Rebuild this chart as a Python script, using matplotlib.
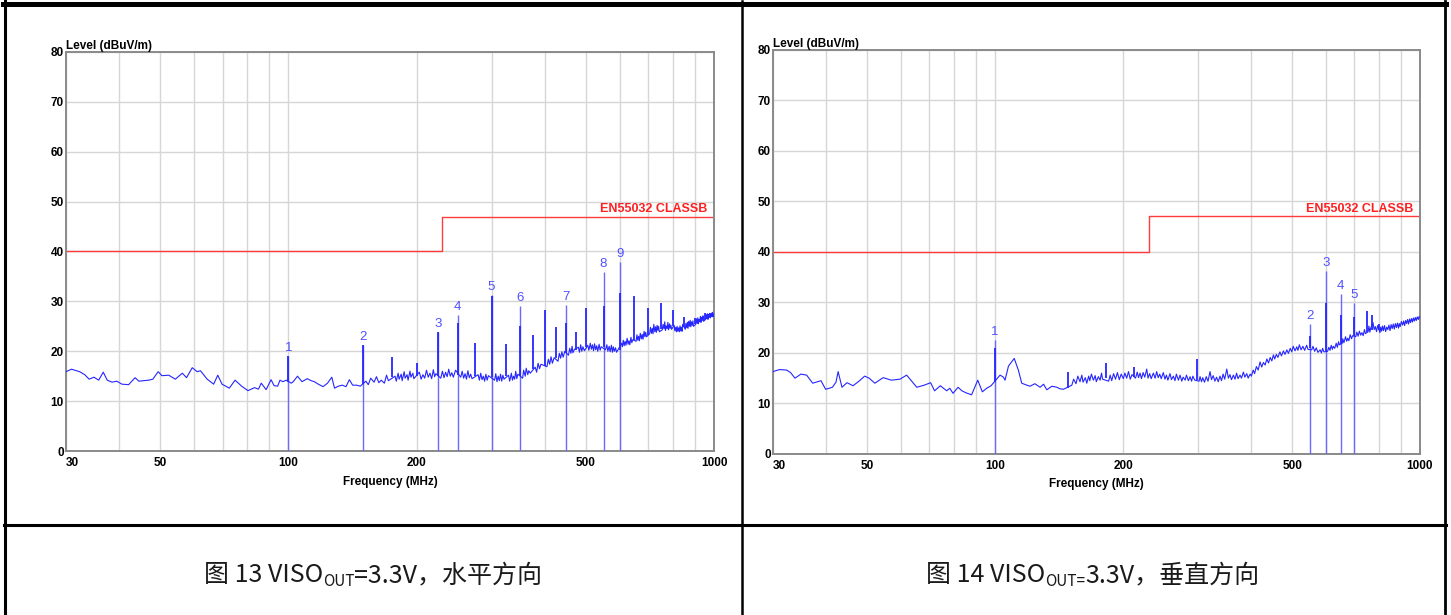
import numpy as np
import matplotlib
matplotlib.use("Agg")
import matplotlib.pyplot as plt
from matplotlib.lines import Line2D
from matplotlib.ticker import NullFormatter
from matplotlib.transforms import IdentityTransform

# ---- limit line EN55032 class B ----
limit_f = [30, 230, 230, 1000]
limit_lvl = [40, 40, 47, 47]

# ---- Fig 13 (horizontal) scan trace, (MHz, dBuV/m) ----
h_trace = [
    (30, 15.9), (30.9, 16.4), (32.3, 15.9), (33.2, 15.3), (34.0, 14.4), (34.9, 14.8), (35.8, 14.2),
    (36.7, 15.8), (37.5, 14.2), (38.5, 13.8), (39.5, 14.0), (40.6, 13.4), (42.1, 13.3), (43.6, 14.7),
    (44.5, 14.0), (46.9, 14.2), (48.0, 14.4), (49.4, 15.9), (50.4, 15.1), (52.3, 15.2), (54.2, 14.4),
    (56.3, 15.6), (57.6, 14.7), (59.4, 16.7), (61.0, 15.9), (62.1, 16.1), (64.4, 14.4), (66.7, 13.4),
    (68.2, 15.2), (69.8, 13.4), (72.6, 12.6), (74.9, 14.2), (77.6, 13.0), (80.3, 12.1), (83.2, 12.7),
    (85.0, 12.4), (86.3, 13.6), (88.6, 12.3), (91.0, 14.3), (92.5, 13.1), (94.3, 13.0), (95.5, 14.2),
    (97.0, 13.9), (98.8, 14.2), (101.5, 13.6), (102.6, 13.9), (105.0, 15.0), (107.6, 13.9),
    (110.7, 14.5), (113.0, 14.1), (115.0, 13.9), (117.5, 13.4), (120.6, 12.9), (123.5, 13.6),
    (126.4, 14.8), (128.3, 12.6), (131.0, 13.0), (133.8, 13.2), (136.5, 12.9), (139.0, 14.3),
    (141.5, 13.2), (144.4, 13.2), (147.5, 13.0),
    (152, 14.0), (154, 13.3), (156, 14.6), (158.9, 13.8), (161, 14.9), (163, 13.7), (165.2, 14.2),
    (168, 13.6), (170, 15.2), (171.7, 14.1), (178, 15.0), (179.2, 14.0), (181, 15.6), (182, 14.4),
    (184, 15.4), (185, 14.1), (187, 15.9), (188, 14.6), (190, 15.3), (191, 14.2), (193, 16.0),
    (194, 14.8), (196, 15.6), (197, 14.5), (203, 15.8), (205, 14.4), (207, 15.3), (209, 14.6),
    (211, 16.2), (213, 14.8), (215, 15.6), (217, 14.5), (219, 16.3), (220.5, 14.9), (222, 15.5),
    (228, 14.6), (230, 16.0), (232, 14.7), (234, 15.8), (236, 14.9), (238, 16.4), (240, 15.0),
    (242, 15.7), (244, 14.8), (247, 16.2), (254, 14.8), (256, 16.0), (258, 14.6), (260, 15.5),
    (262, 14.4), (264, 16.1), (266, 14.7), (268, 15.4), (270, 14.5), (279, 15.3), (281, 14.2),
    (283, 15.6), (285, 14.3), (287, 15.0), (289, 14.0), (291, 15.4), (293, 14.2), (295, 15.1),
    (305, 14.2), (307, 15.5), (309, 13.9), (311, 15.0), (313, 14.1), (315, 15.4), (317, 14.0),
    (319, 15.2), (321, 14.4), (329, 15.2), (331, 14.0), (334, 15.6), (336, 14.2), (338, 15.0),
    (340, 14.4), (342, 16.0), (344, 14.5), (346, 15.4), (355, 14.6), (357, 16.2), (360, 15.0),
    (362, 16.6), (365, 15.3), (367, 16.1), (370, 15.6), (380, 16.8), (383, 15.8), (386, 17.6),
    (389, 16.5), (392, 17.4), (405, 16.9), (408, 18.4), (411, 17.4), (414, 18.9), (417, 17.6),
    (421, 18.7), (430, 18.0), (433, 19.6), (436, 18.6), (439, 19.9), (442, 18.8), (446, 20.0),
    (455, 19.2), (458, 20.6), (461, 19.6), (464, 21.0), (466, 19.7), (470, 20.4), (480, 20.8),
    (483, 19.8), (486, 21.3), (489, 20.0), (492, 20.9), (496, 20.1), (505, 21.2), (508, 20.2),
    (512, 21.6), (515, 20.4), (518, 21.3), (521, 20.1), (524, 21.5), (527, 20.3), (530, 21.1),
    (533, 20.0), (537, 21.4), (540, 20.2), (543, 20.9), (556, 20.3), (560, 21.3), (563, 20.0),
    (567, 21.0), (570, 19.9), (574, 21.2), (577, 19.8), (580, 20.9), (583, 20.0), (587, 20.7),
    (590, 19.8), (595, 20.3), (606, 21.6), (609, 20.9), (612, 22.2), (615, 21.1), (618, 22.0),
    (621, 21.2), (625, 22.6), (628, 21.4), (631, 22.1), (634, 21.3), (638, 22.8), (641, 21.7),
    (644, 22.3), (656, 22.0), (659, 23.3), (662, 22.2), (665, 23.0), (668, 22.1), (671, 23.6),
    (675, 22.5), (678, 23.4), (681, 22.4), (685, 24.0), (688, 22.9), (691, 23.8), (694, 22.9),
    (706, 23.5), (709, 24.8), (713, 23.6), (716, 24.6), (719, 23.5), (722, 25.4), (726, 23.9),
    (729, 24.9), (732, 23.8), (735, 25.2), (738, 24.2), (741, 25.0), (744, 23.9), (756, 24.3),
    (759, 25.4), (763, 24.5), (766, 25.9), (769, 24.2), (772, 25.1), (776, 24.5), (779, 25.8),
    (782, 24.3), (786, 25.5), (789, 24.6), (792, 25.2), (795, 24.4), (806, 25.2), (809, 24.1),
    (813, 24.8), (816, 23.9), (819, 25.0), (822, 24.0), (826, 24.7), (829, 23.9), (832, 25.1),
    (835, 24.1), (838, 24.8), (841, 24.0), (844, 25.4), (856, 24.4), (859, 25.6), (863, 24.7),
    (866, 25.8), (869, 24.6), (872, 26.0), (876, 25.0), (879, 26.2), (882, 24.9), (885, 25.9),
    (889, 25.2), (892, 26.1), (895, 25.0), (906, 25.4), (909, 26.5), (913, 25.6), (916, 26.7),
    (919, 25.5), (922, 26.4), (926, 25.9), (929, 27.0), (932, 25.8), (935, 26.8), (939, 26.2),
    (942, 27.1), (945, 26.0), (956, 26.4), (959, 27.3), (962, 26.6), (965, 27.5), (968, 26.4),
    (971, 27.4), (975, 26.8), (978, 27.6), (981, 26.7), (985, 27.5), (988, 27.0), (991, 27.8),
    (994, 26.9), (997, 27.5), (1000, 27.2),
]
h_spike_f = [100, 150, 175, 200, 225, 250, 275, 300, 325, 350, 375, 400, 425, 450, 475, 500,
             550, 600, 650, 700, 750, 800, 850, 900, 950]
h_spike_base = [13.8, 13.5, 14.8, 15.0, 15.0, 15.2, 15.0, 14.8, 15.0, 15.0, 16.4, 17.0, 18.6, 19.6,
                20.3, 20.8, 20.8, 20.2, 22.2, 23.3, 24.5, 25.0, 24.8, 25.4, 26.2]
h_spike_top = [19.0, 21.2, 18.8, 17.6, 23.8, 25.6, 21.6, 31.0, 21.4, 25.0, 23.2, 28.3, 24.9, 25.6,
               23.9, 28.7, 29.0, 31.7, 31.1, 28.6, 29.6, 28.3, 26.9, 26.6, 27.6]
h_mark_f = [100, 150, 225, 250, 300, 350, 450, 550, 600]
h_mark_lvl = [19.0, 21.2, 23.8, 27.2, 31.2, 29.1, 29.3, 35.8, 37.8]

# ---- Fig 14 (vertical) scan trace ----
v_trace = [
    (30, 16.3), (31.1, 16.7), (32.3, 16.6), (33.0, 16.1), (33.8, 15.0), (34.9, 15.8), (36.0, 15.6),
    (37.2, 14.0), (38.9, 14.5), (39.9, 12.8), (41.4, 13.2), (42.2, 14.2), (42.7, 16.3), (43.6, 13.2),
    (44.8, 14.1), (46.3, 13.5), (47.8, 14.4), (49.3, 15.4), (50.5, 15.0), (52.1, 14.0), (54.5, 15.1),
    (57.0, 14.6), (59.7, 14.8), (61.9, 15.6), (63.5, 14.5), (65.4, 13.2), (68.0, 13.6), (70.5, 14.1),
    (72.0, 12.5), (74.3, 13.5), (76.9, 12.5), (78.2, 13.0), (79.6, 12.0), (81.8, 13.2), (83.5, 12.5),
    (85.4, 12.1), (88.0, 11.7), (91.0, 14.6), (93.3, 12.3), (95.5, 13.0), (97.8, 13.5), (102.7, 15.6),
    (104.6, 15.2), (105.5, 14.6), (107.5, 17.4), (110.4, 18.7), (110.9, 18.9), (113.4, 16.6),
    (115.5, 14.0), (118, 13.7), (120.8, 13.4), (124, 13.9), (127.6, 13.2), (130, 13.8), (132.3, 12.7),
    (136, 13.4), (139.7, 13.2), (142, 12.9), (144.8, 12.8),
    (151.5, 13.6), (153, 14.8), (155, 13.9), (156.5, 15.4), (158.4, 14.3), (160, 15.6), (161, 14.2),
    (163, 15.1), (164.3, 14.0), (166, 15.4), (167, 14.5), (168.5, 15.8), (170.3, 14.6), (172, 15.5),
    (173, 14.3), (175, 15.3), (176.6, 14.6), (178, 16.0), (179, 14.8), (185, 14.4), (186.5, 15.6),
    (188.1, 14.5), (190, 15.9), (192, 14.8), (194, 16.1), (196, 14.7), (198, 15.8), (200.3, 14.9),
    (202, 16.0), (204, 15.0), (206, 16.3), (208, 14.8), (210, 15.7), (214, 15.0), (216, 16.2),
    (217.5, 15.1), (219.3, 16.0), (221, 14.9), (223, 16.1), (225, 15.2), (227.4, 16.8), (229, 15.0),
    (231, 15.9), (233, 14.9), (235.7, 16.0), (238, 15.0), (240, 16.3), (242, 15.1), (244, 15.8),
    (246, 14.9), (248.8, 16.1), (251, 14.8), (253, 15.6), (255, 14.6), (258, 15.9), (260, 14.7),
    (262.7, 15.4), (265, 14.5), (267, 15.8), (270, 14.6), (272.4, 15.6), (275, 14.4), (277, 15.2),
    (280, 14.6), (282, 15.6), (285, 14.5), (287.6, 15.3), (290, 14.4), (292, 15.4), (295, 14.6),
    (302, 14.4), (303.6, 15.3), (306, 14.3), (308, 15.1), (311, 14.2), (314, 15.3), (317, 14.4),
    (320.5, 16.3), (323, 14.7), (326, 15.5), (329, 14.4), (332, 15.2), (335, 14.3), (338.3, 15.4),
    (341, 14.5), (344, 15.8), (347, 14.8), (350.9, 16.8), (354, 15.0), (357, 15.7), (360, 14.7),
    (363.7, 15.6), (367, 14.8), (370, 16.0), (373, 14.9), (377, 15.6), (380, 15.0), (384, 16.2),
    (387, 15.2), (391, 15.9), (394, 15.0), (398.2, 15.8), (401, 15.4), (405, 16.6), (408, 15.9),
    (412, 17.3), (416, 16.6), (420.3, 18.2), (424, 17.2), (428, 18.1), (432, 17.6), (436, 18.8),
    (440, 18.0), (444, 19.1), (448, 18.4), (451.7, 19.6), (455, 18.8), (459, 19.7), (463, 19.1),
    (468, 20.2), (472, 19.4), (477, 20.4), (481, 19.7), (486, 20.6), (490, 19.9), (495, 20.9),
    (499, 20.2), (503, 21.3), (508, 20.4), (512.8, 21.2), (516, 20.5), (520, 21.6), (525, 20.6),
    (530, 21.3), (535, 20.5), (541, 21.5), (545, 20.7), (556, 20.6), (560, 21.3), (565, 20.3),
    (570, 21.0), (575, 20.1), (582, 20.6), (586, 20.0), (590, 20.9), (594, 20.2), (606, 20.3),
    (610, 21.1), (614, 20.5), (618, 21.5), (622, 20.7), (625, 21.3), (630, 20.9), (635, 21.9),
    (639, 21.1), (643, 22.2), (646, 21.6), (656, 21.9), (658, 22.8), (662, 22.0), (668, 23.2),
    (672, 22.3), (676, 22.9), (680, 22.4), (685, 23.6), (690, 22.8), (694, 23.4), (706, 23.2),
    (710, 24.1), (715, 23.3), (720, 24.3), (725, 23.5), (730, 24.0), (735, 23.4), (740, 24.6),
    (744, 23.8), (755, 24.2), (758, 25.3), (762, 24.1), (765, 24.8), (775, 26.0), (780, 24.6),
    (785, 25.2), (790, 24.2), (795, 25.4), (805, 24.0), (808, 25.1), (812, 24.3), (816, 25.3),
    (820, 24.4), (825, 25.4), (830, 24.2), (835, 25.1), (840, 24.6), (845, 25.5), (850, 24.4),
    (855, 25.6), (860, 24.8), (865, 25.7), (870, 24.7), (875, 25.8), (880, 25.0), (885, 25.9),
    (890, 24.9), (894, 25.8), (898, 25.2), (904, 26.2), (910, 25.5), (915, 26.3), (920, 25.4),
    (925, 26.4), (930, 25.8), (935, 26.6), (940, 25.7), (945, 26.7), (950, 26.0), (955, 26.8),
    (960, 26.1), (965, 26.9), (970, 26.3), (975, 27.0), (980, 26.4), (985, 27.1), (991, 26.6),
    (995, 27.2), (1000, 26.9),
]
v_spike_f = [100, 148.7, 182.4, 212, 298, 550, 600, 650, 700, 750, 770, 800]
v_spike_base = [14.2, 13.0, 15.0, 15.2, 14.6, 21.0, 20.4, 21.8, 23.4, 24.2, 24.5, 24.6]
v_spike_top = [21.0, 16.3, 17.9, 17.3, 18.7, 23.3, 29.8, 27.5, 27.0, 28.3, 27.5, 25.7]
v_mark_f = [100, 550, 600, 650, 700]
v_mark_lvl = [22.5, 25.7, 36.1, 31.6, 29.9]

x_major = [30, 50, 100, 200, 500, 1000]
x_minor = [40, 60, 70, 80, 90, 300, 400, 600, 700, 800, 900]

cjk = ["Noto Sans CJK SC", "DejaVu Sans"]
plt.rcParams["font.family"] = ["Liberation Sans", "DejaVu Sans"]

W, H = 1451, 615
fig = plt.figure(figsize=(W / 100, H / 100), dpi=100)


def px_axes(x0, y0, x1, y1):
    # pixel box (top-left origin) -> figure fraction
    return fig.add_axes([x0 / W, 1 - y1 / H, (x1 - x0) / W, (y1 - y0) / H])


def draw_emi(ax, trace, sf, sb, st, mf, ml):
    ff, fl = zip(*trace)
    ax.set_xscale("log")
    ax.set_xlim(30, 1000)
    ax.set_ylim(0, 80)
    ax.set_xticks(x_major)
    ax.set_xticklabels([str(v) for v in x_major], fontsize=8.5, fontweight="bold")
    ax.set_xticks(x_minor, minor=True)
    ax.xaxis.set_minor_formatter(NullFormatter())
    ax.get_xticklabels()[0].set_ha("left")
    ax.set_yticks(range(0, 81, 10))
    ax.set_yticklabels([str(v) for v in range(0, 81, 10)], fontsize=8.5, fontweight="bold")
    ax.tick_params(which="both", length=0)
    ax.tick_params(axis="x", pad=4)
    ax.tick_params(axis="y", pad=1.5)
    ax.grid(True, which="both", color="#d6d6d6", linewidth=1.0, zorder=0)
    for sp in ax.spines.values():
        sp.set_color("#8a8a8a")
        sp.set_linewidth(1.4)

    ax.plot(limit_f, limit_lvl, color="#ff3b3b", lw=1.0, zorder=2)
    ax.annotate("EN55032 CLASSB", xy=(1, 47), xycoords=("axes fraction", "data"),
                xytext=(-4.5, 3), textcoords="offset points", ha="right", va="baseline",
                color="#ff2020", fontsize=9, fontweight="bold")

    ax.vlines(mf, 0, ml, color="#6a6aff", lw=1.0, zorder=3)
    ax.plot(ff, fl, color="#2626ff", lw=0.8, zorder=4)
    ax.vlines(sf, sb, st, color="#2626ff", lw=1.3, zorder=4)
    for i, (f, l) in enumerate(zip(mf, ml)):
        ax.annotate(str(i + 1), xy=(f, l), xytext=(0, 1.5), textcoords="offset points",
                    ha="center", va="bottom", color="#5050ff", fontsize=9.5)

    ax.text(0, 1, "Level (dBuV/m)", transform=ax.transAxes, ha="left", va="bottom",
            fontsize=8.5, fontweight="bold")
    ax.set_xlabel("Frequency (MHz)", fontsize=8.5, fontweight="bold", labelpad=5)


ax1 = px_axes(66, 52, 714, 451)
draw_emi(ax1, h_trace, h_spike_f, h_spike_base, h_spike_top, h_mark_f, h_mark_lvl)
ax2 = px_axes(773, 49.5, 1420, 454)
draw_emi(ax2, v_trace, v_spike_f, v_spike_base, v_spike_top, v_mark_f, v_mark_lvl)


# table borders
def hline(y, x0, x1, lw):
    fig.add_artist(Line2D([x0 / W, x1 / W], [1 - y / H, 1 - y / H], color="black", lw=lw,
                          transform=fig.transFigure))


def vline(x, y0, y1, lw):
    fig.add_artist(Line2D([x / W, x / W], [1 - y0 / H, 1 - y1 / H], color="black", lw=lw,
                          transform=fig.transFigure))


hline(3.5, 3, 1446, 3.6)
hline(524.5, 4, 1446, 2.2)
vline(5, 1, 615, 2.2)
vline(742, 1, 615, 1.8)
vline(1444.5, 1, 615, 2.0)

# captions: pieces of (text, size, baseline shift px)
renderer = fig.canvas.get_renderer()


def caption(cx, base_y, pieces):
    arts = []
    for s, size, dy in pieces:
        t = fig.text(0, 0, s, fontsize=size, family=cjk, ha="left", va="baseline",
                     transform=IdentityTransform(), color="#1a1a1a")
        arts.append((t, dy, t.get_window_extent(renderer).width))
    x = cx - sum(a[2] for a in arts) / 2
    for t, dy, w in arts:
        t.set_position((x, H - base_y + dy))
        x += w


caption(373, 582, [("图 13 VISO", 18, 0), ("OUT", 11, -4), ("=3.3V，水平方向", 18, 0)])
caption(1093, 582, [("图 14 VISO", 18, 0), ("OUT=", 11, -4), ("3.3V，垂直方向", 18, 0)])

fig.savefig("out.png", dpi=100, facecolor="white")
